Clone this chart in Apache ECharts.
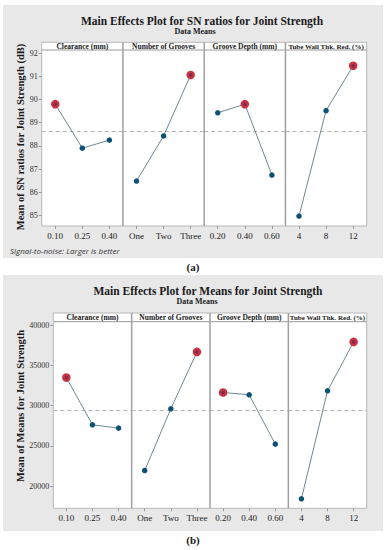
<!DOCTYPE html>
<html><head><meta charset="utf-8">
<script src="https://cdn.jsdelivr.net/npm/echarts@6/dist/echarts.min.js"></script>
<style>html,body{margin:0;padding:0;background:#fff}#c{width:387px;height:550px}</style>
</head><body><div id="c"></div>
<script>
// ---------- data ----------
const factorNames = ['Clearance (mm)', 'Number of Grooves', 'Groove Depth (mm)', 'Tube Wall Thk. Red. (%)'];
const levelsClearance = ['0.10', '0.25', '0.40'];
const levelsGrooves = ['One', 'Two', 'Three'];
const levelsDepth = ['0.20', '0.40', '0.60'];
const levelsTube = ['4', '8', '12'];
const snClearance = [89.80, 87.90, 88.25];
const snGrooves = [86.48, 88.43, 91.06];
const snDepth = [89.43, 89.80, 86.74];
const snTube = [84.97, 89.52, 91.46];
const meanClearance = [33470, 27600, 27190];
const meanGrooves = [21925, 29590, 36650];
const meanDepth = [31615, 31330, 25205];
const meanTube = [18410, 31826, 37894];
const snTicks = [85, 86, 87, 88, 89, 90, 91, 92];
const meanTicks = [20000, 25000, 30000, 35000, 40000];
const titleA = 'Main Effects Plot for SN ratios for Joint Strength';
const titleB = 'Main Effects Plot for Means for Joint Strength';
const subTitle = 'Data Means';
const yNameA = 'Mean of SN ratios for Joint Strength (dB)';
const yNameB = 'Mean of Means for Joint Strength';
const noteA = 'Signal-to-noise: Larger is better';

// ---------- layout ----------
const levels = [levelsClearance, levelsGrooves, levelsDepth, levelsTube];
const charts = [
  { vals: [snClearance, snGrooves, snDepth, snTube], ticks: snTicks, min: 84.54, max: 92.14,
    bg: [3, 5, 380, 253], L: 41.7, R: 366.7, hTop: 42.3, top: 50, bottom: 226,
    title: titleA, tx: 202, ty: 21, sx: 195, sy: 31.5, yName: yNameA, nx: 20, ny: 137,
    cap: '(a)', capY: 267, note: noteA },
  { vals: [meanClearance, meanGrooves, meanDepth, meanTube], ticks: meanTicks, min: 17230, max: 40410,
    bg: [3, 275, 380, 256], L: 53.3, R: 366.7, hTop: 313, top: 321.7, bottom: 508.3,
    title: titleB, tx: 208, ty: 291, sx: 197, sy: 301.5, yName: yNameB, nx: 20, ny: 406,
    cap: '(b)', capY: 540, note: null }
];

const serif = 'Liberation Serif';
const grid = [], xAxis = [], yAxis = [], series = [], graphic = [];
const RED = '#c9313f', BLUE = '#0c5276';

charts.forEach((c, ci) => {
  const w = (c.R - c.L) / 4;
  const all = [].concat(...c.vals);
  const overall = all.reduce((a, b) => a + b, 0) / all.length;
  graphic.push({ type: 'rect', z: -20, shape: { x: c.bg[0], y: c.bg[1], width: c.bg[2], height: c.bg[3] }, style: { fill: '#e8e8e8' } });
  graphic.push({ type: 'rect', z: -10, shape: { x: c.L, y: c.hTop, width: c.R - c.L, height: c.bottom - c.hTop }, style: { fill: '#ffffff', stroke: '#b8b8b8', lineWidth: 1 } });
  graphic.push({ type: 'line', z: 50, shape: { x1: c.L, y1: c.top, x2: c.R, y2: c.top }, style: { stroke: '#9a9a9a', lineWidth: 1 } });
  for (let i = 1; i < 4; i++) {
    const x = c.L + i * w;
    graphic.push({ type: 'line', z: 50, shape: { x1: x, y1: c.hTop, x2: x, y2: c.bottom }, style: { stroke: '#a0a0a0', lineWidth: 1.5 } });
  }
  graphic.push({ type: 'text', z: 60, x: c.tx, y: c.ty, style: { text: c.title, font: 'bold 11.5px "' + serif + '"', fill: '#1a1a1a', textAlign: 'center', textVerticalAlign: 'middle' } });
  graphic.push({ type: 'text', z: 60, x: c.sx, y: c.sy, style: { text: subTitle, font: 'bold 8px "' + serif + '"', fill: '#1a1a1a', textAlign: 'center', textVerticalAlign: 'middle' } });
  graphic.push({ type: 'text', z: 60, x: c.nx, y: c.ny, rotation: Math.PI / 2, style: { text: c.yName, font: 'bold 10.5px "' + serif + '"', fill: '#1a1a1a', textAlign: 'center', textVerticalAlign: 'middle' } });
  graphic.push({ type: 'text', z: 60, x: 193, y: c.capY, style: { text: c.cap, font: 'bold 11px "' + serif + '"', fill: '#1a1a1a', textAlign: 'center', textVerticalAlign: 'middle' } });
  if (c.note) {
    graphic.push({ type: 'text', z: 60, x: 10, y: 250, style: { text: c.note, font: 'italic 8px "Open Sans"', fill: '#333', textAlign: 'left', textVerticalAlign: 'middle' } });
  }
  for (let i = 0; i < 4; i++) {
    const gi = grid.length;
    const x0 = c.L + i * w;
    const hf = i === 3 ? 7 : 7.5;
    graphic.push({ type: 'text', z: 60, x: x0 + w / 2, y: (c.hTop + c.top) / 2 + 0.5, style: { text: factorNames[i], font: 'bold ' + hf + 'px "' + serif + '"', fill: '#1a1a1a', textAlign: 'center', textVerticalAlign: 'middle' } });
    grid.push({ left: x0, top: c.top, width: w, height: c.bottom - c.top });
    xAxis.push({ gridIndex: gi, type: 'category', data: levels[i], boundaryGap: true,
      axisLine: { show: false },
      axisTick: { show: true, alignWithLabel: true, length: 3, lineStyle: { color: '#999' } },
      axisLabel: { fontFamily: serif, fontSize: 9, color: '#222', margin: 5, interval: 0 } });
    yAxis.push({ gridIndex: gi, type: 'value', min: c.min, max: c.max,
      axisLine: { show: false }, splitLine: { show: false },
      axisTick: { show: i === 0, length: 3, customValues: c.ticks, lineStyle: { color: '#999' } },
      axisLabel: { show: i === 0, customValues: c.ticks, formatter: (val) => String(val), fontFamily: serif, fontSize: 8, color: '#333', margin: 4 } });
    const v = c.vals[i];
    const mi = v.indexOf(Math.max(...v));
    series.push({ type: 'line', xAxisIndex: gi, yAxisIndex: gi, z: 5,
      data: v.map((y, k) => ({ value: y,
        symbolSize: k === mi ? 6 : 5.5,
        itemStyle: k === mi ? { color: '#7d2a55', borderColor: RED, borderWidth: 2.6 } : { color: BLUE, borderWidth: 0 } })),
      symbol: 'circle', showSymbol: true,
      lineStyle: { color: '#6f8794', width: 1 },
      animation: false,
      markLine: { silent: true, symbol: 'none', label: { show: false }, z: 1,
        lineStyle: { color: '#b5b5b5', type: [4, 3], width: 1 },
        data: [{ yAxis: overall }] } });
  }
});

const chart = echarts.init(document.getElementById('c'), null, { renderer: 'svg' });
chart.setOption({ animation: false, grid, xAxis, yAxis, series, graphic });
</script></body></html>
